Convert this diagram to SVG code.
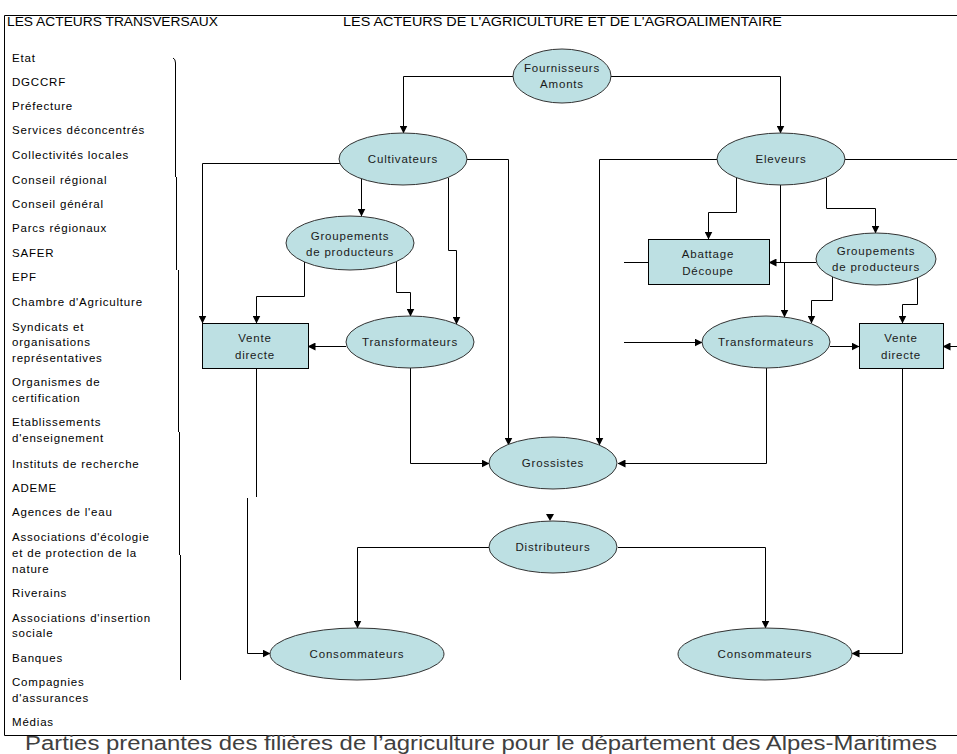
<svg xmlns="http://www.w3.org/2000/svg" width="957" height="754" viewBox="0 0 957 754">
<style>
.bg{fill:#fff}
.frame{fill:none;stroke:#000;stroke-width:1}
.hdr{font-family:"Liberation Sans Narrow","Liberation Sans",Arial,sans-serif;font-size:12.5px;fill:#000}
.lst{font-family:"Liberation Sans",Arial,sans-serif;font-size:11.5px;letter-spacing:0.8px;fill:#000}
.nt{font-family:"Liberation Sans",Arial,sans-serif;font-size:11.5px;letter-spacing:0.8px;fill:#1a1a1a;text-anchor:middle}
.el{fill:#bde0e3;stroke:#333;stroke-width:1}
.bx{fill:#bde0e3;stroke:#000;stroke-width:1}
.cn{fill:none;stroke:#000;stroke-width:1}
.cap{font-family:"Liberation Sans",Arial,sans-serif;font-size:20px;fill:#404040;text-anchor:middle}
</style>
<defs>
<marker id="ah" markerWidth="8" markerHeight="8" refX="7.5" refY="4" orient="auto" markerUnits="userSpaceOnUse">
<path d="M0,0 L8,4 L0,8 z" fill="#000"/>
</marker>
</defs>
<rect class="bg" x="0" y="0" width="957" height="754"/>
<g id="frame">
<path class="frame" d="M957,15.5 H4.5 V735.5 H957"/>
<path class="frame" d="M173,58 Q175.5,59 175.5,63 V177 M176.5,177 V270 M178.5,270 V432 M179.5,432 V555 M180.5,555 V680"/>
<text class="hdr" x="7" y="26" textLength="211" lengthAdjust="spacingAndGlyphs">LES ACTEURS TRANSVERSAUX</text>
<text class="hdr" x="343" y="26" textLength="439" lengthAdjust="spacingAndGlyphs">LES ACTEURS DE L'AGRICULTURE ET DE L'AGROALIMENTAIRE</text>
</g>
<g id="transversal-list">
<text class="lst" x="12" y="62">Etat</text>
<text class="lst" x="12" y="86">DGCCRF</text>
<text class="lst" x="12" y="110">Préfecture</text>
<text class="lst" x="12" y="134">Services déconcentrés</text>
<text class="lst" x="12" y="159">Collectivités locales</text>
<text class="lst" x="12" y="184">Conseil régional</text>
<text class="lst" x="12" y="208">Conseil général</text>
<text class="lst" x="12" y="232">Parcs régionaux</text>
<text class="lst" x="12" y="257">SAFER</text>
<text class="lst" x="12" y="281">EPF</text>
<text class="lst" x="12" y="306">Chambre d'Agriculture</text>
<text class="lst" x="12" y="331">Syndicats et</text>
<text class="lst" x="12" y="346">organisations</text>
<text class="lst" x="12" y="362">représentatives</text>
<text class="lst" x="12" y="386">Organismes de</text>
<text class="lst" x="12" y="402">certification</text>
<text class="lst" x="12" y="426">Etablissements</text>
<text class="lst" x="12" y="442">d'enseignement</text>
<text class="lst" x="12" y="468">Instituts de recherche</text>
<text class="lst" x="12" y="492">ADEME</text>
<text class="lst" x="12" y="516">Agences de l'eau</text>
<text class="lst" x="12" y="541">Associations d'écologie</text>
<text class="lst" x="12" y="557">et de protection de la</text>
<text class="lst" x="12" y="573">nature</text>
<text class="lst" x="12" y="597">Riverains</text>
<text class="lst" x="12" y="622">Associations d'insertion</text>
<text class="lst" x="12" y="637">sociale</text>
<text class="lst" x="12" y="662">Banques</text>
<text class="lst" x="12" y="686">Compagnies</text>
<text class="lst" x="12" y="702">d'assurances</text>
<text class="lst" x="12" y="726">Médias</text>
</g>
<g id="connectors">
<path class="cn" marker-end="url(#ah)" d="M513,76.5 H403.5 V133"/>
<path class="cn" marker-end="url(#ah)" d="M611,76.5 H780.5 V133"/>
<path class="cn" marker-end="url(#ah)" d="M340,163.5 H202.5 V323"/>
<path class="cn" marker-end="url(#ah)" d="M467,159.5 H508.5 V445"/>
<path class="cn" marker-end="url(#ah)" d="M361.5,179 V216"/>
<path class="cn" marker-end="url(#ah)" d="M448.5,178 V250.5 H456.5 V324"/>
<path class="cn" marker-end="url(#ah)" d="M304.5,261 V296.5 H256.5 V323"/>
<path class="cn" marker-end="url(#ah)" d="M396.5,261 V292.5 H410.5 V316"/>
<path class="cn" marker-end="url(#ah)" d="M346,346.5 H308"/>
<path class="cn" marker-end="url(#ah)" d="M410.5,368 V463.5 H489"/>
<path class="cn" d="M256.5,368 V497"/>
<path class="cn" marker-end="url(#ah)" d="M247.5,498 V653.5 H270"/>
<path class="cn" marker-end="url(#ah)" d="M717,159.5 H599.5 V445"/>
<path class="cn" marker-end="url(#ah)" d="M736.5,178 V212.5 H708.5 V239"/>
<path class="cn" d="M780.5,185 V262"/>
<path class="cn" marker-end="url(#ah)" d="M784.5,262 V317"/>
<path class="cn" marker-end="url(#ah)" d="M826.5,178 V208.5 H875.5 V233"/>
<path class="cn" d="M845,159.5 H957"/>
<path class="cn" d="M624,262.5 H648"/>
<path class="cn" marker-end="url(#ah)" d="M816,262.5 H769"/>
<path class="cn" marker-end="url(#ah)" d="M832.5,277 V300.5 H811.5 V323"/>
<path class="cn" marker-end="url(#ah)" d="M917.5,278 V304.5 H902.5 V323"/>
<path class="cn" marker-end="url(#ah)" d="M624,342.5 H702"/>
<path class="cn" marker-end="url(#ah)" d="M830,346.5 H859"/>
<path class="cn" marker-end="url(#ah)" d="M957,346.5 H943"/>
<path class="cn" marker-end="url(#ah)" d="M766.5,368 V463.5 H618"/>
<path class="cn" marker-end="url(#ah)" d="M902.5,368 V653.5 H852"/>
<path class="cn" marker-end="url(#ah)" d="M489,547.5 H357.5 V628"/>
<path class="cn" marker-end="url(#ah)" d="M618,547.5 H765.5 V628"/>
<path d="M546,514 H554 L550,521 z" fill="#000"/>
</g>
<g id="fournisseurs">
<ellipse class="el" cx="562" cy="76" rx="49" ry="27"/>
<text class="nt" x="562" y="72">Fournisseurs</text>
<text class="nt" x="562" y="88">Amonts</text>
</g>
<g id="cultivateurs">
<ellipse class="el" cx="403" cy="159" rx="64" ry="26"/>
<text class="nt" x="403" y="163">Cultivateurs</text>
</g>
<g id="eleveurs">
<ellipse class="el" cx="781" cy="159" rx="64" ry="26"/>
<text class="nt" x="781" y="163">Eleveurs</text>
</g>
<g id="groupements-gauche">
<ellipse class="el" cx="350" cy="243" rx="64" ry="27"/>
<text class="nt" x="350" y="240">Groupements</text>
<text class="nt" x="350" y="256">de producteurs</text>
</g>
<g id="vente-directe-gauche">
<rect class="bx" x="202.5" y="323.5" width="106" height="45"/>
<text class="nt" x="255" y="342">Vente</text>
<text class="nt" x="255" y="359">directe</text>
</g>
<g id="transformateurs-gauche">
<ellipse class="el" cx="410" cy="342" rx="64" ry="26"/>
<text class="nt" x="410" y="346">Transformateurs</text>
</g>
<g id="abattage">
<rect class="bx" x="648.5" y="239.5" width="121" height="45"/>
<text class="nt" x="708" y="258">Abattage</text>
<text class="nt" x="708" y="275">Découpe</text>
</g>
<g id="groupements-droite">
<ellipse class="el" cx="876" cy="259" rx="60" ry="26"/>
<text class="nt" x="876" y="255">Groupements</text>
<text class="nt" x="876" y="271">de producteurs</text>
</g>
<g id="transformateurs-droite">
<ellipse class="el" cx="766" cy="342" rx="64" ry="26"/>
<text class="nt" x="766" y="346">Transformateurs</text>
</g>
<g id="vente-directe-droite">
<rect class="bx" x="859.5" y="323.5" width="84" height="45"/>
<text class="nt" x="901" y="342">Vente</text>
<text class="nt" x="901" y="359">directe</text>
</g>
<g id="grossistes">
<ellipse class="el" cx="553" cy="463" rx="64" ry="26"/>
<text class="nt" x="553" y="467">Grossistes</text>
</g>
<g id="distributeurs">
<ellipse class="el" cx="553" cy="547" rx="64" ry="26"/>
<text class="nt" x="553" y="551">Distributeurs</text>
</g>
<g id="consommateurs-gauche">
<ellipse class="el" cx="357" cy="654" rx="87" ry="26"/>
<text class="nt" x="357" y="658">Consommateurs</text>
</g>
<g id="consommateurs-droite">
<ellipse class="el" cx="765" cy="654" rx="87" ry="26"/>
<text class="nt" x="765" y="658">Consommateurs</text>
</g>
<text class="cap" x="481" y="750" textLength="912" lengthAdjust="spacingAndGlyphs">Parties prenantes des filières de l’agriculture pour le département des Alpes-Maritimes</text>
</svg>
